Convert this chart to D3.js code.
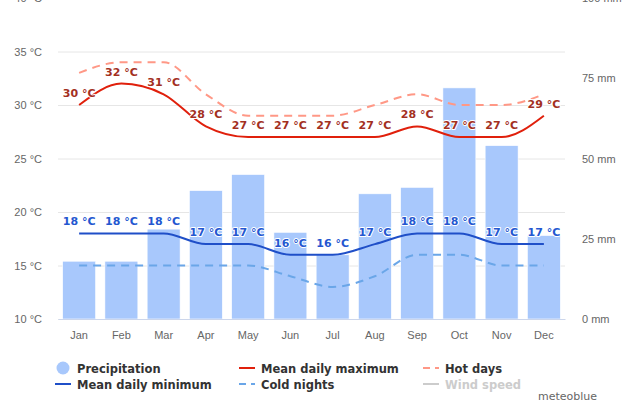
<!DOCTYPE html>
<html>
<head>
<meta charset="utf-8">
<script src="https://cdn.jsdelivr.net/npm/d3@7"></script>
<style>
  body { margin: 0; background: #fff; }
  svg { display: block; font-family: "DejaVu Sans", sans-serif; }
</style>
</head>
<body>
<svg id="chart" width="640" height="400"></svg>
<script>
// Monthly climate values
const months = ["Jan", "Feb", "Mar", "Apr", "May", "Jun", "Jul", "Aug", "Sep", "Oct", "Nov", "Dec"];
const precipitation = [18, 18, 28, 40, 45, 27, 20, 39, 41, 72, 54, 26];
const meanMax = [30, 32, 31, 28, 27, 27, 27, 27, 28, 27, 27, 29];
const hotDays = [33, 34, 34, 31, 29, 29, 29, 30, 31, 30, 30, 31];
const meanMin = [18, 18, 18, 17, 17, 16, 16, 17, 18, 18, 17, 17];
const coldNights = [15, 15, 15, 15, 15, 14, 13, 14, 16, 16, 15, 15];
const tempTicks = [10, 15, 20, 25, 30, 35, 40];
const mmTicks = [0, 25, 50, 75, 100];

const svg = d3.select("#chart");
const plotLeft = 58, plotRight = 565, plotTop = -2, plotBottom = 319;

const x = d3.scaleBand().domain(months).range([plotLeft, plotRight]).paddingInner(0.22).paddingOuter(0.11);
const xc = d => x(d) + x.bandwidth() / 2;
const yT = d3.scaleLinear().domain([10, 40]).range([plotBottom, plotTop]);
const yP = d3.scaleLinear().domain([0, 100]).range([plotBottom, plotTop]);

// Left axis with grid lines
const yAxisL = svg.append("g")
    .attr("transform", `translate(${plotLeft},0)`)
    .call(d3.axisLeft(yT).tickValues(tempTicks).tickSize(-(plotRight - plotLeft)).tickPadding(16).tickFormat(d => d + " °C"));
yAxisL.select(".domain").remove();
yAxisL.selectAll("line").attr("stroke", "#e6e6e6");
yAxisL.selectAll("text").attr("fill", "#666").attr("font-size", "11px");

// Right axis (precipitation)
const yAxisR = svg.append("g")
    .attr("transform", `translate(${plotRight},0)`)
    .call(d3.axisRight(yP).tickValues(mmTicks).tickSize(0).tickPadding(17).tickFormat(d => d + " mm"));
yAxisR.select(".domain").remove();
yAxisR.selectAll("text").attr("fill", "#666").attr("font-size", "11px");

// Precipitation bars
svg.append("g").selectAll("rect")
    .data(precipitation)
    .join("rect")
    .attr("x", (d, i) => x(months[i]))
    .attr("width", x.bandwidth())
    .attr("y", d => yP(d))
    .attr("height", d => plotBottom - yP(d))
    .attr("fill", "#a8c8fc")
    .attr("stroke", "#fff")
    .attr("stroke-width", 0.6);

// X axis
const xAxis = svg.append("g")
    .attr("transform", `translate(0,${plotBottom})`)
    .call(d3.axisBottom(x).tickSize(0).tickPadding(12));
xAxis.select(".domain").attr("stroke", "#ccd6eb");
xAxis.selectAll("text").attr("fill", "#666").attr("font-size", "11px");

// Temperature lines
const line = d3.line()
    .x((d, i) => xc(months[i]))
    .y(d => yT(d))
    .curve(d3.curveMonotoneX);

function drawLine(values, color, dash) {
    svg.append("path")
        .datum(values)
        .attr("d", line)
        .attr("fill", "none")
        .attr("stroke", color)
        .attr("stroke-width", 2)
        .attr("stroke-dasharray", dash || null);
}

drawLine(coldNights, "#6aa6e8", "8,6");
drawLine(meanMin, "#1f4fc8");
drawLine(hotDays, "#ff9886", "8,6");
drawLine(meanMax, "#e0200c");

// Data labels
function drawLabels(values, color) {
    svg.append("g").selectAll("text")
        .data(values)
        .join("text")
        .attr("x", (d, i) => xc(months[i]))
        .attr("y", d => yT(d) - 8)
        .attr("text-anchor", "middle")
        .attr("font-size", "11px")
        .attr("font-weight", "bold")
        .attr("fill", color)
        .attr("stroke", "#fff")
        .attr("stroke-width", 2)
        .attr("stroke-linejoin", "round")
        .attr("paint-order", "stroke")
        .text(d => d + " °C");
}
drawLabels(meanMax, "#a3301f");
drawLabels(meanMin, "#2457d0");

// Legend
const legendItems = [
    { name: "Precipitation", type: "circle", color: "#a8c8fc", x: 63, y: 368 },
    { name: "Mean daily maximum", type: "line", color: "#e0200c", x: 247, y: 368 },
    { name: "Hot days", type: "dash", color: "#ff9886", x: 431, y: 368 },
    { name: "Mean daily minimum", type: "line", color: "#1f4fc8", x: 63, y: 384 },
    { name: "Cold nights", type: "dash", color: "#6aa6e8", x: 247, y: 384 },
    { name: "Wind speed", type: "line", color: "#cccccc", x: 431, y: 384, off: true }
];

const legend = svg.append("g").selectAll("g")
    .data(legendItems)
    .join("g")
    .attr("transform", d => `translate(${d.x},${d.y})`);

legend.filter(d => d.type === "circle").append("circle")
    .attr("r", 6.5)
    .attr("fill", d => d.color);

legend.filter(d => d.type !== "circle").append("line")
    .attr("x1", -8).attr("x2", 8)
    .attr("stroke", d => d.color)
    .attr("stroke-width", 2)
    .attr("stroke-dasharray", d => d.type === "dash" ? "7,5" : null);

legend.append("text")
    .attr("x", 14)
    .attr("y", 4.5)
    .attr("font-size", "11.5px")
    .attr("font-weight", "bold")
    .attr("fill", d => d.off ? "#cccccc" : "#333")
    .text(d => d.name);

// Credit
svg.append("text")
    .attr("x", 597)
    .attr("y", 400)
    .attr("text-anchor", "end")
    .attr("font-size", "11px")
    .attr("fill", "#666")
    .text("meteoblue");
</script>
</body>
</html>
